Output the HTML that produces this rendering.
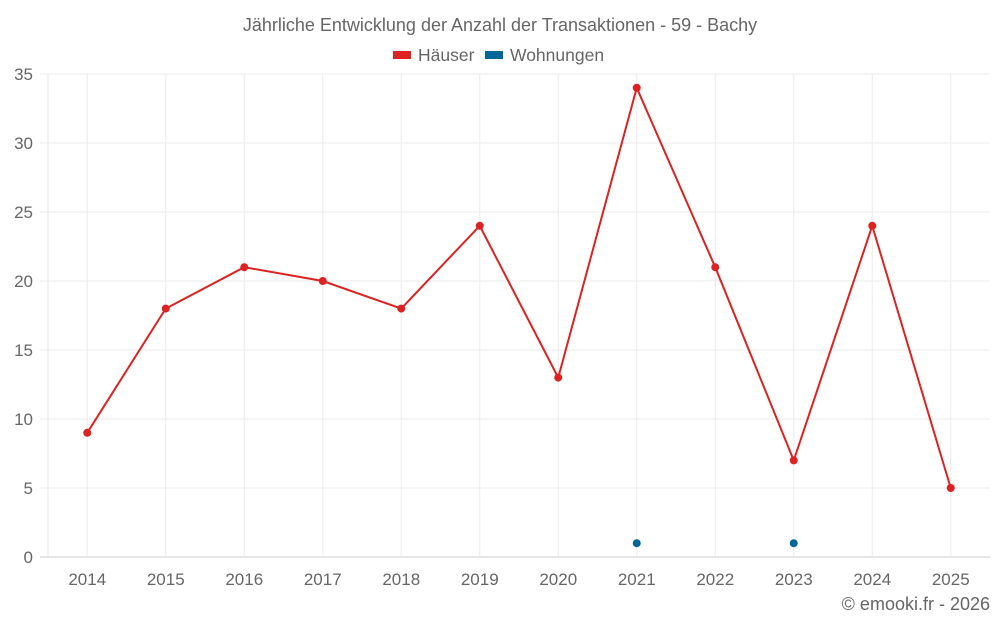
<!DOCTYPE html>
<html><head><meta charset="utf-8">
<style>
body{margin:0;background:#fff;font-family:"Liberation Sans",sans-serif;}
svg text{font-family:"Liberation Sans",sans-serif;fill:#666;}
</style></head>
<body>
<svg id="c" width="1000" height="625">
<text x="500" y="31" text-anchor="middle" font-size="18">Jährliche Entwicklung der Anzahl der Transaktionen - 59 - Bachy</text>
<g>
<g><rect x="393" y="51" width="18" height="8" fill="#dd2222"/><text x="418" y="61" font-size="17.5">Häuser</text></g>
<g><rect x="485" y="51" width="18" height="8" fill="#006699"/><text x="510" y="61" font-size="17.5">Wohnungen</text></g>
</g>
<g id="grid"></g>
<g id="axes"></g>
<g id="series"></g>
<text x="990" y="610" text-anchor="end" font-size="18">© emooki.fr - 2026</text>
</svg>
<script>
const categories=["2014","2015","2016","2017","2018","2019","2020","2021","2022","2023","2024","2025"];
const haeuser=[9,18,21,20,18,24,13,34,21,7,24,5];
const wohnungen=[null,null,null,null,null,null,null,1,null,1,null,null];
const yTicks=[0,5,10,15,20,25,30,35];
const NS="http://www.w3.org/2000/svg";
const L=48,R=990,T=74,B=557,yMax=35;
const bw=(R-L)/categories.length;
function x(i){return L+bw*(i+0.5);}
function y(v){return B-(v/yMax)*(B-T);}
function mk(tag,attrs,parent){const e=document.createElementNS(NS,tag);for(const k in attrs)e.setAttribute(k,attrs[k]);parent.appendChild(e);return e;}
const grid=document.getElementById('grid'),axes=document.getElementById('axes'),ser=document.getElementById('series');
yTicks.forEach(t=>{
 const l=mk('line',{x1:40,x2:R,y1:y(t),y2:y(t),stroke:t===0?'#ccc':'#ebebeb','stroke-width':1},grid);
 
 
 const tx=mk('text',{x:33,y:y(t)+6,'text-anchor':'end','font-size':17},axes);
 tx.textContent=t;
 
 
});
const ax=mk('line',{x1:L,x2:L,y1:T,y2:B,stroke:'#e6e6e6'},grid);


categories.forEach((c,i)=>{
 const l=mk('line',{x1:x(i),x2:x(i),y1:T,y2:B,stroke:'#ebebeb'},grid);
 
 
 const tx=mk('text',{x:x(i),y:585,'text-anchor':'middle','font-size':17},axes);
 tx.textContent=c;
 
 
});
function drawSeries(vals,color,name){
 let d='',prev=false;
 vals.forEach((v,i)=>{if(v==null){prev=false;return;}d+=(prev?'L':'M')+x(i)+' '+y(v)+' ';prev=true;});
 if(d){const p=mk('path',{d:d,fill:'none',stroke:color,'stroke-width':2},ser);
 
 }
 vals.forEach((v,i)=>{if(v==null)return;
  const c=mk('circle',{cx:x(i),cy:y(v),r:4,fill:color},ser);
  
  });
}
drawSeries(haeuser,'#dd2222','haeuser');
drawSeries(wohnungen,'#006699','wohnungen');
</script>
</body></html>
